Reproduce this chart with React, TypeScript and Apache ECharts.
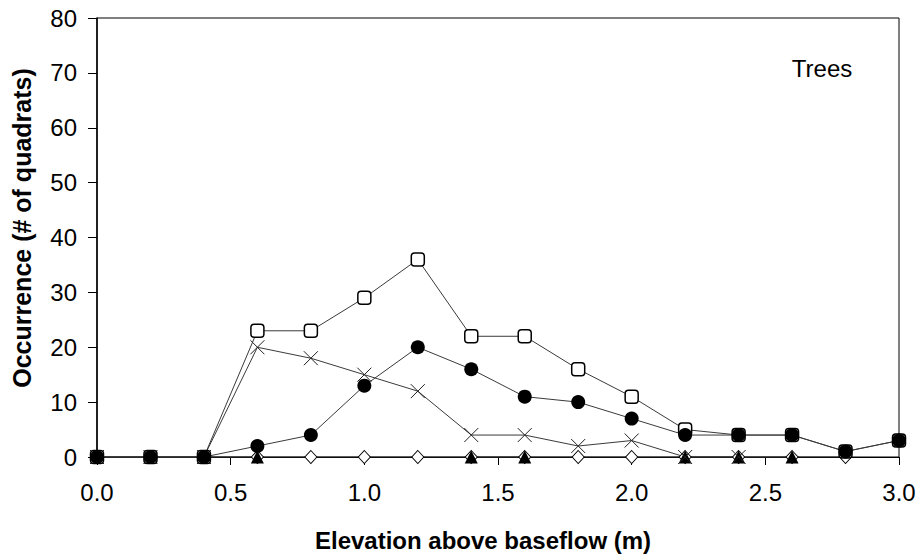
import React, { useEffect, useRef } from "react";
import * as echarts from "echarts";

const xValues = [0, 0.2, 0.4, 0.6, 0.8, 1.0, 1.2, 1.4, 1.6, 1.8, 2.0, 2.2, 2.4, 2.6, 2.8, 3.0];
const openSquare = [0, 0, 0, 23, 23, 29, 36, 22, 22, 16, 11, 5, 4, 4, 1, 3];
const filledCircle = [0, 0, 0, 2, 4, 13, 20, 16, 11, 10, 7, 4, 4, 4, 1, 3];
const crossSeries = [0, 0, 0, 20, 18, 15, 12, 4, 4, 2, 3, 0, 0, null, null, null];
const triangleSeries = [0, 0, 0, 0, null, null, null, 0, 0, null, null, 0, 0, 0, null, null];
const diamondSeries = [0, 0, 0, 0, 0, 0, 0, 0, 0, 0, 0, 0, 0, 0, 0, null];

const yTicks = { min: 0, max: 80, interval: 10 };
const xTicks = { min: 0, max: 3, interval: 0.5 };

const FONT = "'Liberation Sans', Arial, sans-serif";

const pairs = (ys: (number | null)[]) => xValues.map((x, i) => [x, ys[i]]);

export default function App() {
  const ref = useRef<HTMLDivElement>(null);
  useEffect(() => {
    if (!ref.current) return;
    const chart = echarts.init(ref.current, undefined, { renderer: "svg" });
    const lineColor = "#3a3a3a";
    chart.setOption({
      animation: false,
      backgroundColor: "#fff",
      grid: { left: 97, top: 18, right: 21, bottom: 101, show: true, borderColor: "#000", borderWidth: 1 },
      xAxis: {
        type: "value",
        min: xTicks.min,
        max: xTicks.max,
        interval: xTicks.interval,
        axisLine: { show: true, onZero: false, lineStyle: { color: "#000", width: 1 } },
        axisTick: { show: true, inside: false, length: 8, lineStyle: { color: "#000" } },
        splitLine: { show: false },
        axisLabel: { color: "#000", fontFamily: FONT, fontSize: 24, margin: 23, formatter: (v: number) => v.toFixed(1) },
      },
      yAxis: {
        type: "value",
        min: yTicks.min,
        max: yTicks.max,
        interval: yTicks.interval,
        axisLine: { show: true, lineStyle: { color: "#000", width: 1.5 } },
        axisTick: { show: true, inside: false, length: 9, lineStyle: { color: "#000" } },
        splitLine: { show: false },
        axisLabel: { color: "#000", fontFamily: FONT, fontSize: 24, margin: 20 },
      },
      graphic: [
        {
          type: "text",
          x: 483,
          y: 540,
          style: { text: "Elevation above baseflow (m)", fontFamily: FONT, fontSize: 24, fontWeight: "bold", fill: "#000", align: "center", verticalAlign: "middle" },
        },
        {
          type: "text",
          x: 22,
          y: 228,
          rotation: Math.PI / 2,
          style: { text: "Occurrence (# of quadrats)", fontFamily: FONT, fontSize: 25, fontWeight: "bold", fill: "#000", align: "center", verticalAlign: "middle" },
        },
        {
          type: "text",
          x: 822,
          y: 68,
          style: { text: "Trees", fontFamily: FONT, fontSize: 24, fill: "#000", align: "center", verticalAlign: "middle" },
        },
      ],
      series: [
        {
          type: "line",
          data: pairs(diamondSeries),
          symbol: "diamond",
          symbolSize: [12, 13],
          itemStyle: { color: "#fff", borderColor: "#000", borderWidth: 1 },
          lineStyle: { color: lineColor, width: 1 },
          emphasis: { disabled: true },
        },
        {
          type: "line",
          data: pairs(triangleSeries),
          symbol: "triangle",
          symbolSize: [13, 13],
          itemStyle: { color: "#000", borderColor: "#000", borderWidth: 0 },
          lineStyle: { color: lineColor, width: 1 },
          emphasis: { disabled: true },
        },
        {
          type: "line",
          data: pairs(crossSeries),
          symbol: "path://M0 0L10 10M10 0L0 10",
          symbolSize: 14,
          itemStyle: { color: "rgba(0,0,0,0)", borderColor: "#222", borderWidth: 1 },
          lineStyle: { color: lineColor, width: 1 },
          emphasis: { disabled: true },
        },
        {
          type: "line",
          data: pairs(openSquare),
          symbol: "roundRect",
          symbolSize: 13,
          itemStyle: { color: "#fff", borderColor: "#000", borderWidth: 1.5 },
          lineStyle: { color: lineColor, width: 1 },
          emphasis: { disabled: true },
        },
        {
          type: "line",
          data: pairs(filledCircle),
          symbol: "circle",
          symbolSize: 14,
          itemStyle: { color: "#000", borderColor: "#000", borderWidth: 0 },
          lineStyle: { color: lineColor, width: 1 },
          emphasis: { disabled: true },
        },
      ],
    });
    return () => chart.dispose();
  }, []);
  return <div ref={ref} style={{ width: 920, height: 558, position: "absolute", left: 0, top: 0 }} />;
}
